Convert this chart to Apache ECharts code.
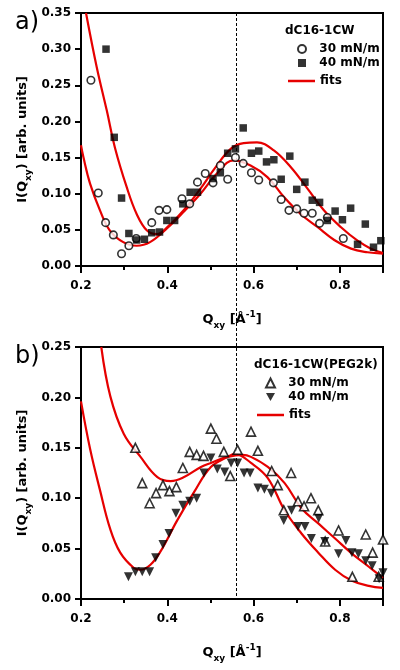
<!DOCTYPE html>
<html><head><meta charset="utf-8">
<script src="https://cdn.jsdelivr.net/npm/echarts/dist/echarts.min.js"></script>
<style>html,body{margin:0;padding:0;background:#fff}#c{width:400px;height:670px}</style>
</head><body><div id="c"></div>
<script>
// ---------- DATA ----------
// Panel a) dC16-1CW
const qA30 = [0.223,0.240,0.257,0.275,0.294,0.311,0.328,0.364,0.381,0.399,0.434,0.452,0.470,0.488,0.506,0.523,0.540,0.558,0.576,0.595,0.612,0.646,0.664,0.682,0.700,0.717,0.736,0.753,0.771,0.808];
const iA30 = [0.257,0.101,0.060,0.043,0.017,0.028,0.038,0.060,0.077,0.078,0.093,0.086,0.116,0.128,0.115,0.139,0.120,0.150,0.142,0.129,0.119,0.115,0.092,0.077,0.079,0.073,0.073,0.059,0.067,0.038];
const qA40 = [0.258,0.277,0.294,0.311,0.329,0.347,0.364,0.382,0.399,0.417,0.436,0.453,0.470,0.506,0.523,0.540,0.558,0.576,0.595,0.612,0.630,0.647,0.664,0.684,0.700,0.719,0.736,0.753,0.771,0.789,0.806,0.825,0.841,0.859,0.878,0.895];
const iA40 = [0.300,0.178,0.094,0.045,0.036,0.037,0.046,0.047,0.063,0.063,0.086,0.102,0.102,0.121,0.129,0.156,0.162,0.191,0.156,0.159,0.144,0.147,0.120,0.152,0.106,0.116,0.091,0.088,0.063,0.076,0.064,0.080,0.030,0.058,0.026,0.035];
const qAfit30 = [0.200,0.2054,0.221,0.244,0.267,0.298,0.329,0.360,0.399,0.438,0.477,0.515,0.554,0.593,0.632,0.671,0.709,0.748,0.787,0.826,0.864,0.900];
const iAfit30 = [0.167,0.151,0.114,0.077,0.049,0.033,0.028,0.033,0.052,0.075,0.100,0.128,0.146,0.139,0.123,0.095,0.072,0.054,0.036,0.024,0.019,0.017];
const qAfit40 = [0.2116,0.2365,0.2598,0.279,0.306,0.329,0.353,0.376,0.399,0.438,0.477,0.510,0.547,0.577,0.608,0.647,0.686,0.725,0.763,0.802,0.841,0.872,0.900];
const iAfit40 = [0.350,0.275,0.215,0.163,0.109,0.072,0.049,0.044,0.053,0.077,0.107,0.135,0.162,0.170,0.171,0.160,0.137,0.107,0.077,0.054,0.035,0.024,0.018];

// Panel b) dC16-1CW(PEG2k)
const qB30 = [0.326,0.342,0.359,0.374,0.390,0.405,0.421,0.436,0.452,0.468,0.484,0.501,0.514,0.531,0.546,0.563,0.594,0.610,0.642,0.656,0.670,0.687,0.703,0.717,0.733,0.750,0.766,0.797,0.829,0.860,0.876,0.890,0.900];
const iB30 = [0.150,0.115,0.095,0.105,0.113,0.107,0.111,0.130,0.146,0.143,0.142,0.169,0.159,0.146,0.122,0.148,0.166,0.147,0.127,0.113,0.088,0.125,0.097,0.092,0.100,0.088,0.057,0.068,0.022,0.064,0.046,0.022,0.059];
const qB40 = [0.310,0.326,0.342,0.359,0.373,0.390,0.404,0.420,0.436,0.452,0.468,0.485,0.501,0.516,0.533,0.548,0.563,0.578,0.592,0.610,0.625,0.641,0.670,0.688,0.703,0.719,0.734,0.751,0.765,0.797,0.814,0.828,0.843,0.860,0.875,0.891,0.900];
const iB40 = [0.022,0.027,0.027,0.027,0.041,0.054,0.065,0.085,0.093,0.097,0.100,0.125,0.140,0.129,0.126,0.135,0.135,0.125,0.125,0.110,0.109,0.105,0.078,0.088,0.072,0.072,0.060,0.080,0.057,0.045,0.058,0.046,0.045,0.038,0.033,0.020,0.026];
const qBfit30 = [0.247,0.268,0.299,0.338,0.377,0.408,0.439,0.478,0.501,0.540,0.575,0.594,0.633,0.672,0.711,0.750,0.789,0.828,0.867,0.900];
const iBfit30 = [0.250,0.201,0.164,0.141,0.121,0.117,0.121,0.131,0.135,0.141,0.143,0.141,0.131,0.115,0.090,0.075,0.060,0.045,0.032,0.021];
const qBfit40 = [0.200,0.221,0.244,0.268,0.291,0.322,0.338,0.361,0.384,0.423,0.462,0.501,0.540,0.557,0.594,0.633,0.672,0.711,0.750,0.789,0.828,0.867,0.900];
const iBfit40 = [0.196,0.149,0.108,0.069,0.046,0.031,0.029,0.034,0.047,0.078,0.106,0.131,0.141,0.144,0.135,0.120,0.088,0.065,0.046,0.029,0.018,0.013,0.011];

// reference line position
const refQ = 0.56;

// axis ranges / tick labels
const xRange = [0.2, 0.9], xStep = 0.2;
const yRangeA = [0, 0.35], yRangeB = [0, 0.25], yStep = 0.05;

const legendTitles = ['dC16-1CW', 'dC16-1CW(PEG2k)'];
const legendNames = {a30:'30 mN/m', a40:'40 mN/m', afit:'fits', b30:'30 mN/m', b40:'40 mN/m', bfit:'fits'};

// ---------- CHART ----------
const FONT = 'DejaVu Sans';
const RED = '#e60000';
const DOWN_TRI = 'path://M0,0 L10,0 L5,9 Z';
const zip = (q, v) => q.map((x, i) => [x, v[i]]);
const chart = echarts.init(document.getElementById('c'), null, {renderer: 'canvas'});

const rich = {
  n: {fontFamily: FONT, fontWeight: 'bold', fontSize: 13, color: '#000', lineHeight: 20},
  s: {fontFamily: FONT, fontWeight: 'bold', fontSize: 9, color: '#000', verticalAlign: 'bottom'},
  p: {fontFamily: FONT, fontWeight: 'bold', fontSize: 9, color: '#000', verticalAlign: 'top'}
};
const legText = {fontFamily: FONT, fontWeight: 'bold', fontSize: 12, color: '#000'};

function xAxisCfg(gi) {
  return {
    type: 'value', gridIndex: gi, min: xRange[0], max: xRange[1], interval: xStep,
    axisLine: {lineStyle: {color: '#000', width: 2}},
    axisTick: {inside: false, length: 7, lineStyle: {color: '#000', width: 2}},
    minorTick: {show: true, splitNumber: 2, length: 4, lineStyle: {color: '#000', width: 2}},
    splitLine: {show: false},
    axisLabel: {fontFamily: FONT, fontWeight: 'bold', fontSize: 12, color: '#000', margin: 14,
      formatter: v => Math.abs(v - xRange[1]) < 1e-6 ? '' : v.toFixed(1)},
    name: '{n|Q}{s|xy}{n| [Å}{p|-1}{n|]}', nameLocation: 'middle', nameGap: 44, nameMoveOverlap: false,
    nameTextStyle: {rich: rich}
  };
}
function yAxisCfg(gi, range) {
  return {
    type: 'value', gridIndex: gi, min: range[0], max: range[1], interval: yStep,
    axisLine: {lineStyle: {color: '#000', width: 2}},
    axisTick: {inside: false, length: 6, lineStyle: {color: '#000', width: 2}},
    splitLine: {show: false},
    axisLabel: {fontFamily: FONT, fontWeight: 'bold', fontSize: 12, color: '#000', margin: 10,
      formatter: v => v.toFixed(2)},
    name: '{n|I(Q}{s|xy}{n|) [arb. units]}', nameLocation: 'middle', nameGap: 48, nameRotate: 90, nameMoveOverlap: false,
    nameTextStyle: {rich: rich}
  };
}
const hollow = {color: '#fff', borderColor: '#000', borderWidth: 1.6};
const solid = {color: '#000', borderColor: '#000', borderWidth: 0};
const fitLine = {color: RED, width: 2.2};

function symLegend(items, left, top, size) {
  return {data: items, left: left, top: top, orient: 'vertical', itemWidth: size, itemHeight: size, itemGap: 2,
    selectedMode: false, formatter: n => '  ' + legendNames[n], symbolKeepAspect: true, textStyle: legText};
}
function fitLegend(name, left, top) {
  return {data: [{name: name, icon: 'rect'}], left: left, top: top, orient: 'vertical', itemWidth: 27, itemHeight: 2.5,
    selectedMode: false, formatter: n => legendNames[n], textStyle: legText};
}

const option = {
  animation: false,
  backgroundColor: '#fff',
  grid: [
    {left: 81, top: 13, width: 302, height: 253, show: true, borderColor: '#000', borderWidth: 2, backgroundColor: 'transparent'},
    {left: 81, top: 347, width: 302, height: 252, show: true, borderColor: '#000', borderWidth: 2, backgroundColor: 'transparent'}
  ],
  xAxis: [xAxisCfg(0), xAxisCfg(1)],
  yAxis: [yAxisCfg(0, yRangeA), yAxisCfg(1, yRangeB)],
  title: [
    {text: 'a)', left: 10, top: 6, textStyle: {fontFamily: FONT, fontWeight: 'normal', fontSize: 24, color: '#000'}},
    {text: 'b)', left: 10, top: 340, textStyle: {fontFamily: FONT, fontWeight: 'normal', fontSize: 24, color: '#000'}},
    {text: legendTitles[0], left: 280, top: 20, textStyle: legText},
    {text: legendTitles[1], left: 249, top: 354, textStyle: legText}
  ],
  legend: [
    symLegend([{name: 'a30'}, {name: 'a40'}], 292, 38, 8),
    fitLegend('afit', 283, 70),
    symLegend([{name: 'b30'}, {name: 'b40', icon: DOWN_TRI}], 260, 372, 9),
    fitLegend('bfit', 252, 404)
  ],
  series: [
    {name: 'afit', type: 'line', xAxisIndex: 0, yAxisIndex: 0, data: zip(qAfit30, iAfit30), smooth: 0.4, symbol: 'none', lineStyle: fitLine, itemStyle: {color: RED}, z: 1},
    {name: 'afit', type: 'line', xAxisIndex: 0, yAxisIndex: 0, data: zip(qAfit40, iAfit40), smooth: 0.4, symbol: 'none', lineStyle: fitLine, itemStyle: {color: RED}, z: 1},
    {name: 'a30', type: 'scatter', xAxisIndex: 0, yAxisIndex: 0, data: zip(qA30, iA30), symbol: 'circle', symbolSize: 7.5, itemStyle: hollow, z: 3},
    {name: 'a40', type: 'scatter', xAxisIndex: 0, yAxisIndex: 0, data: zip(qA40, iA40), symbol: 'rect', symbolSize: 7.5, itemStyle: solid, z: 3},
    {name: 'bfit', type: 'line', xAxisIndex: 1, yAxisIndex: 1, data: zip(qBfit30, iBfit30), smooth: 0.4, symbol: 'none', lineStyle: fitLine, itemStyle: {color: RED}, z: 1},
    {name: 'bfit', type: 'line', xAxisIndex: 1, yAxisIndex: 1, data: zip(qBfit40, iBfit40), smooth: 0.4, symbol: 'none', lineStyle: fitLine, itemStyle: {color: RED}, z: 1},
    {name: 'b30', type: 'scatter', xAxisIndex: 1, yAxisIndex: 1, data: zip(qB30, iB30), symbol: 'triangle', symbolSize: 9, itemStyle: hollow, z: 3},
    {name: 'b40', type: 'scatter', xAxisIndex: 1, yAxisIndex: 1, data: zip(qB40, iB40), symbol: DOWN_TRI, symbolSize: 9, itemStyle: solid, z: 3}
  ]
};
chart.setOption(option);

// vertical dashed reference line through both panels, positioned via axis scales
const px = chart.convertToPixel({xAxisIndex: 0}, refQ);
const yTop = chart.convertToPixel({yAxisIndex: 0}, yRangeA[1]);
const yBot = chart.convertToPixel({yAxisIndex: 1}, yRangeB[0]);
chart.setOption({graphic: [{type: 'line', z: 0, silent: true,
  shape: {x1: Math.round(px) + 0.5, y1: yTop, x2: Math.round(px) + 0.5, y2: yBot},
  style: {stroke: '#000', lineWidth: 1, lineDash: [3, 2]}}]});
</script></body></html>
